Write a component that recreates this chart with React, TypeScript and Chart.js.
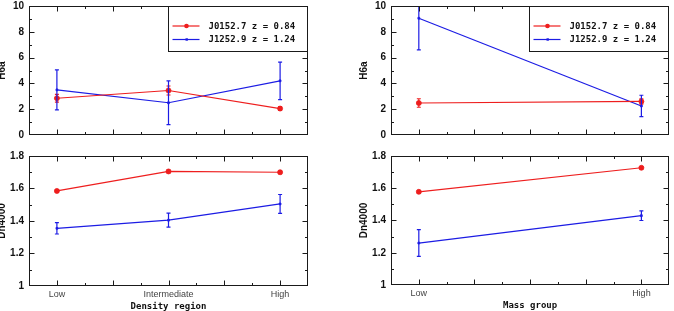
import React, { useEffect, useRef } from 'react';
import { Chart, registerables } from 'chart.js';

Chart.register(...registerables);

// ---------- data ----------
const densityCategories = ['Low', 'Intermediate', 'High'];
const massCategories = ['Low', 'High'];
const seriesNames = ['J0152.7 z = 0.84', 'J1252.9 z = 1.24'];

const hdaDensityJ0152 = [2.85, 3.45, 2.05];
const hdaDensityJ0152Err = [0.3, 0.35, 0.15];
const hdaDensityJ1252 = [3.5, 2.5, 4.2];
const hdaDensityJ1252Err = [1.55, 1.7, 1.45];

const dnDensityJ0152 = [1.585, 1.705, 1.7];
const dnDensityJ0152Err = [0.008, 0.008, 0.008];
const dnDensityJ1252 = [1.355, 1.405, 1.505];
const dnDensityJ1252Err = [0.035, 0.043, 0.058];

const hdaMassJ0152 = [2.48, 2.6];
const hdaMassJ0152Err = [0.33, 0.2];
const hdaMassJ1252 = [9.05, 2.25];
const hdaMassJ1252Err = [2.45, 0.83];

const dnMassJ0152 = [1.578, 1.727];
const dnMassJ0152Err = [0.008, 0.006];
const dnMassJ1252 = [1.26, 1.43];
const dnMassJ1252Err = [0.083, 0.03];

const hdaTickLabels = [0, 2, 4, 6, 8, 10];
const dnTickLabels = [1, 1.2, 1.4, 1.6, 1.8];

// ---------- styles ----------
const RED = 'rgb(238,30,30)';
const BLUE = 'rgb(28,28,228)';
const FRAME = '#1a1a1a';
const SANS = '"Liberation Sans", Arial, sans-serif';
const MONO = '"DejaVu Sans Mono", monospace';

type Series = { values: number[]; errors: number[] };
type PanelSpec = {
  canvas: { left: number; top: number; width: number; height: number };
  plot: { left: number; top: number; right: number; bottom: number };
  categories: string[];
  xMin: number;
  xMax: number;
  xMinorStep: number;
  xMajorStep: number;
  yMin: number;
  yMax: number;
  yMinorStep: number;
  yMajorStep: number;
  yTickLabels: number[];
  yTitle: string;
  xTitle?: string;
  showXLabels: boolean;
  legend: boolean;
  series: Series[];
};

const panels: PanelSpec[] = [
  {
    canvas: { left: 0, top: 0, width: 337, height: 150 },
    plot: { left: 29, top: 6, right: 308, bottom: 135 },
    categories: densityCategories,
    xMin: 0.75, xMax: 3.25, xMinorStep: 0.25, xMajorStep: 0.5,
    yMin: 0, yMax: 10, yMinorStep: 1, yMajorStep: 2,
    yTickLabels: hdaTickLabels,
    yTitle: 'H6a',
    showXLabels: false,
    legend: true,
    series: [
      { values: hdaDensityJ0152, errors: hdaDensityJ0152Err },
      { values: hdaDensityJ1252, errors: hdaDensityJ1252Err },
    ],
  },
  {
    canvas: { left: 0, top: 150, width: 337, height: 161 },
    plot: { left: 29, top: 156, right: 308, bottom: 286 },
    categories: densityCategories,
    xMin: 0.75, xMax: 3.25, xMinorStep: 0.25, xMajorStep: 0.5,
    yMin: 1, yMax: 1.8, yMinorStep: 0.1, yMajorStep: 0.2,
    yTickLabels: dnTickLabels,
    yTitle: 'Dn4000',
    xTitle: 'Density region',
    showXLabels: true,
    legend: false,
    series: [
      { values: dnDensityJ0152, errors: dnDensityJ0152Err },
      { values: dnDensityJ1252, errors: dnDensityJ1252Err },
    ],
  },
  {
    canvas: { left: 337, top: 0, width: 337, height: 150 },
    plot: { left: 391, top: 6, right: 670, bottom: 135 },
    categories: massCategories,
    xMin: 0.875, xMax: 2.125, xMinorStep: 0.125, xMajorStep: 0.25,
    yMin: 0, yMax: 10, yMinorStep: 1, yMajorStep: 2,
    yTickLabels: hdaTickLabels,
    yTitle: 'H6a',
    showXLabels: false,
    legend: true,
    series: [
      { values: hdaMassJ0152, errors: hdaMassJ0152Err },
      { values: hdaMassJ1252, errors: hdaMassJ1252Err },
    ],
  },
  {
    canvas: { left: 337, top: 150, width: 337, height: 161 },
    plot: { left: 391, top: 156, right: 670, bottom: 285 },
    categories: massCategories,
    xMin: 0.875, xMax: 2.125, xMinorStep: 0.125, xMajorStep: 0.25,
    yMin: 1, yMax: 1.8, yMinorStep: 0.1, yMajorStep: 0.2,
    yTickLabels: dnTickLabels,
    yTitle: 'Dn4000',
    xTitle: 'Mass group',
    showXLabels: true,
    legend: false,
    series: [
      { values: dnMassJ0152, errors: dnMassJ0152Err },
      { values: dnMassJ1252, errors: dnMassJ1252Err },
    ],
  },
];

const colors = [RED, BLUE];

function isMultiple(v: number, step: number) {
  const r = v / step;
  return Math.abs(r - Math.round(r)) < 1e-6;
}

function makePlugin(spec: PanelSpec) {
  return {
    id: 'panelDecor',
    afterDatasetsDraw(chart: any) {
      const ctx = chart.ctx as CanvasRenderingContext2D;
      const area = chart.chartArea;
      const xs = chart.scales.x;
      const ys = chart.scales.y;
      // error bars
      ctx.save();
      ctx.beginPath();
      ctx.rect(area.left, area.top, area.right - area.left, area.bottom - area.top);
      ctx.clip();
      spec.series.forEach((s, i) => {
        ctx.strokeStyle = colors[i];
        ctx.lineWidth = 1.2;
        s.values.forEach((v, j) => {
          const e = s.errors[j];
          const px = xs.getPixelForValue(j + 1);
          const y1 = ys.getPixelForValue(v + e);
          const y2 = ys.getPixelForValue(v - e);
          ctx.beginPath();
          ctx.moveTo(px, y1);
          ctx.lineTo(px, y2);
          ctx.moveTo(px - 2, y1);
          ctx.lineTo(px + 2, y1);
          ctx.moveTo(px - 2, y2);
          ctx.lineTo(px + 2, y2);
          ctx.stroke();
        });
      });
      ctx.restore();
    },
    afterDraw(chart: any) {
      const ctx = chart.ctx as CanvasRenderingContext2D;
      const area = chart.chartArea;
      const xs = chart.scales.x;
      const ys = chart.scales.y;
      const L = Math.round(area.left) + 0.5;
      const R = Math.round(area.right) - 0.5;
      const T = Math.round(area.top) + 0.5;
      const B = Math.round(area.bottom) - 0.5;
      ctx.save();
      ctx.strokeStyle = FRAME;
      ctx.lineWidth = 1;
      ctx.strokeRect(L, T, R - L, B - T);
      // ticks inside
      ctx.beginPath();
      for (let v = spec.xMin; v <= spec.xMax + 1e-9; v += spec.xMinorStep) {
        const px = Math.round(xs.getPixelForValue(v)) + 0.5;
        if (px <= L + 1 || px >= R - 1) continue;
        const len = isMultiple(v, spec.xMajorStep) ? 5 : 2.5;
        ctx.moveTo(px, B);
        ctx.lineTo(px, B - len);
        ctx.moveTo(px, T);
        ctx.lineTo(px, T + len);
      }
      for (let v = spec.yMin; v <= spec.yMax + 1e-9; v += spec.yMinorStep) {
        const py = Math.round(ys.getPixelForValue(v)) + 0.5;
        if (py <= T + 1 || py >= B - 1) continue;
        const len = isMultiple(v, spec.yMajorStep) ? 5 : 2.5;
        ctx.moveTo(L, py);
        ctx.lineTo(L + len, py);
        ctx.moveTo(R, py);
        ctx.lineTo(R - len, py);
      }
      ctx.stroke();

      // legend
      if (spec.legend) {
        const bx = Math.round(area.right - 140) + 0.5;
        const by = T;
        const bw = R - bx;
        const bh = 45;
        ctx.fillStyle = '#fff';
        ctx.fillRect(bx, by, bw, bh);
        ctx.strokeStyle = FRAME;
        ctx.strokeRect(bx, by, bw, bh);
        seriesNames.forEach((name, i) => {
          const ry = by + 19.5 + i * 13.5;
          ctx.strokeStyle = colors[i];
          ctx.lineWidth = 1.2;
          ctx.beginPath();
          ctx.moveTo(bx + 4, ry);
          ctx.lineTo(bx + 31, ry);
          ctx.stroke();
          ctx.fillStyle = colors[i];
          if (i === 0) {
            ctx.beginPath();
            ctx.arc(bx + 18, ry, 2.3, 0, Math.PI * 2);
            ctx.fill();
          } else {
            ctx.fillRect(bx + 17, ry - 1.2, 2.4, 2.4);
          }
          ctx.fillStyle = '#111';
          ctx.font = `bold 9px ${MONO}`;
          ctx.textAlign = 'left';
          ctx.textBaseline = 'middle';
          ctx.fillText(name, bx + 40, ry + 0.5);
        });
      }

      // y title
      ctx.save();
      ctx.translate(area.left - 27, (area.top + area.bottom) / 2);
      ctx.rotate(-Math.PI / 2);
      ctx.fillStyle = '#111';
      ctx.font = `bold 10px ${SANS}`;
      ctx.textAlign = 'center';
      ctx.textBaseline = 'middle';
      ctx.fillText(spec.yTitle, 0, 0);
      ctx.restore();

      // x title
      if (spec.xTitle) {
        ctx.fillStyle = '#111';
        ctx.font = `bold 9px ${MONO}`;
        ctx.textAlign = 'center';
        ctx.textBaseline = 'middle';
        ctx.fillText(spec.xTitle, (area.left + area.right) / 2, area.bottom + 20.5);
      }
      ctx.restore();
    },
  };
}

function Panel({ spec }: { spec: PanelSpec }) {
  const ref = useRef<HTMLCanvasElement | null>(null);
  useEffect(() => {
    if (!ref.current) return;
    const c = spec.canvas;
    const p = spec.plot;
    const chart = new Chart(ref.current, {
      type: 'line',
      data: {
        datasets: spec.series.map((s, i) => ({
          label: seriesNames[i],
          data: s.values.map((v, j) => ({ x: j + 1, y: v })),
          borderColor: colors[i],
          backgroundColor: colors[i],
          borderWidth: 1.2,
          pointRadius: i === 0 ? 2.5 : 1.3,
          pointStyle: i === 0 ? 'circle' : 'rect',
          pointBorderWidth: 0.8,
          tension: 0,
        })),
      },
      options: {
        animation: false,
        responsive: false,
        maintainAspectRatio: false,
        events: [],
        layout: {
          padding: { top: p.top - c.top, right: c.left + c.width - p.right, left: 0, bottom: 0 },
        },
        plugins: { legend: { display: false }, tooltip: { enabled: false } },
        scales: {
          x: {
            type: 'linear',
            min: spec.xMin,
            max: spec.xMax,
            grid: { display: false, drawTicks: false },
            border: { display: false },
            afterBuildTicks: (s: any) => {
              s.ticks = spec.categories.map((_, i) => ({ value: i + 1 }));
            },
            afterFit: (s: any) => {
              s.height = c.top + c.height - p.bottom;
              s.paddingLeft = 0;
              s.paddingRight = 0;
            },
            ticks: {
              display: spec.showXLabels,
              autoSkip: false,
              maxRotation: 0,
              padding: 3,
              color: '#444',
              font: { family: SANS, size: 9 },
              callback: (v: any) => spec.categories[Math.round(Number(v)) - 1] ?? '',
            },
          },
          y: {
            type: 'linear',
            min: spec.yMin,
            max: spec.yMax,
            grid: { display: false, drawTicks: false },
            border: { display: false },
            afterBuildTicks: (s: any) => {
              s.ticks = spec.yTickLabels.map((v) => ({ value: v }));
            },
            afterFit: (s: any) => {
              s.width = p.left - c.left;
              s.paddingTop = 0;
              s.paddingBottom = 0;
            },
            ticks: {
              padding: 5,
              color: '#111',
              font: { family: SANS, size: 10, weight: 'bold' },
              callback: (v: any) => String(Number(Number(v).toFixed(2))),
            },
          },
        },
      },
      plugins: [makePlugin(spec)],
    } as any);
    return () => chart.destroy();
  }, [spec]);
  const c = spec.canvas;
  return (
    <canvas
      ref={ref}
      width={c.width}
      height={c.height}
      style={{ position: 'absolute', left: c.left, top: c.top, width: c.width, height: c.height, display: 'block' }}
    />
  );
}

export default function App() {
  return (
    <div style={{ position: 'fixed', left: 0, top: 0, width: 674, height: 311, background: '#fff', overflow: 'hidden' }}>
      {panels.map((p, i) => (
        <Panel key={i} spec={p} />
      ))}
    </div>
  );
}
